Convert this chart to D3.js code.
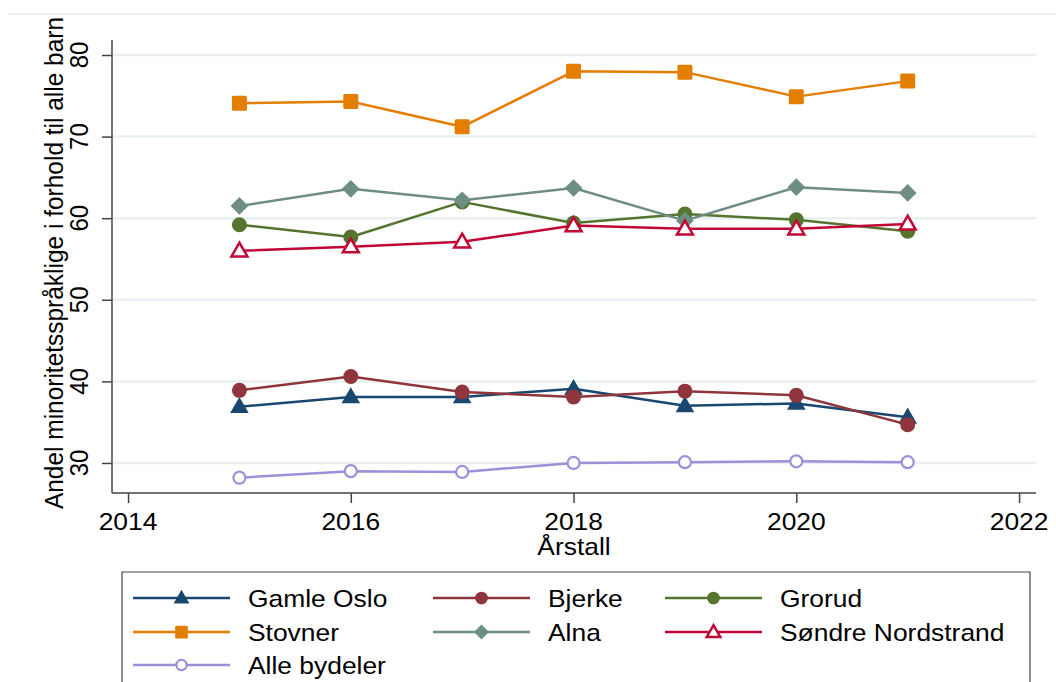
<!DOCTYPE html>
<html><head><meta charset="utf-8">
<script src="https://cdn.jsdelivr.net/npm/d3@7"></script>
<style>html,body{margin:0;padding:0;background:#fff;}svg{display:block;}</style>
</head><body>
<svg id="c" width="1056" height="682"></svg>
<script>
const years = [2015, 2016, 2017, 2018, 2019, 2020, 2021];
const seriesNames = ["Gamle Oslo", "Bjerke", "Grorud", "Stovner", "Alna", "Søndre Nordstrand", "Alle bydeler"];
const gamleOslo = [36.9, 38.1, 38.1, 39.1, 37.0, 37.3, 35.6];
const bjerke = [38.9, 40.6, 38.7, 38.1, 38.8, 38.3, 34.7];
const grorud = [59.2, 57.7, 62.0, 59.4, 60.5, 59.8, 58.4];
const stovner = [74.1, 74.3, 71.2, 78.0, 77.9, 74.9, 76.8];
const alna = [61.5, 63.6, 62.2, 63.7, 59.7, 63.8, 63.1];
const sondreNordstrand = [56.0, 56.5, 57.1, 59.1, 58.7, 58.7, 59.3];
const alleBydeler = [28.2, 29.0, 28.9, 30.0, 30.1, 30.2, 30.1];
const xTicks = [2014, 2016, 2018, 2020, 2022];
const yTicks = [30, 40, 50, 60, 70, 80];
const yTitle = "Andel minoritetsspråklige i forhold til alle barn";
const xTitle = "Årstall";

const seriesValues = [gamleOslo, bjerke, grorud, stovner, alna, sondreNordstrand, alleBydeler];
const colors = ["#1a476f", "#90353b", "#55752f", "#e37e00", "#6e8e84", "#c10534", "#9a91d9"];
const symbols = ["triangle", "circle", "circle", "square", "diamond", "triangleHollow", "circleHollow"];

const svg = d3.select("#c");
const FS = 24, SX = 1.1;
const font = "'Liberation Sans', Arial, sans-serif";

const x = d3.scaleLinear().domain([2013.856, 2022.152]).range([112, 1036]);
const y = d3.scaleLinear().domain([26.32, 81.84]).range([493, 40]);

// top faint line
svg.append("line").attr("x1", 8).attr("x2", 1056).attr("y1", 14).attr("y2", 14)
  .attr("stroke", "#e9eef0").attr("stroke-width", 1.5);

// grid
svg.append("g").selectAll("line").data(yTicks).join("line")
  .attr("x1", 113).attr("x2", 1036)
  .attr("y1", d => y(d)).attr("y2", d => y(d))
  .attr("stroke", "#e8f0f1").attr("stroke-width", 2.5);

// axes
const yAxis = d3.axisLeft(y).tickValues(yTicks).tickSize(10).tickFormat("");
const gy = svg.append("g").attr("transform", "translate(112,0)").call(yAxis);
gy.select(".domain").attr("d", "M0,40V493").attr("stroke", "#444").attr("stroke-width", 1.5);
gy.selectAll(".tick line").attr("stroke", "#444").attr("stroke-width", 1.5);

const xAxis = d3.axisBottom(x).tickValues(xTicks).tickSize(10).tickFormat("");
const gx = svg.append("g").attr("transform", "translate(0,493)").call(xAxis);
gx.select(".domain").attr("d", "M112,0H1036").attr("stroke", "#444").attr("stroke-width", 1.5);
gx.selectAll(".tick line").attr("stroke", "#444").attr("stroke-width", 1.5);

function htext(tx, ty, s, anchor) {
  svg.append("text").attr("transform", `translate(${tx},${ty}) scale(${SX},1)`)
    .attr("text-anchor", anchor || "start").attr("font-family", font).attr("font-size", FS)
    .attr("fill", "#000").text(s);
}
function vtext(tx, ty, s, sy) {
  svg.append("text").attr("transform", `translate(${tx},${ty}) scale(${SX},${sy || 1}) rotate(-90)`)
    .attr("text-anchor", "middle").attr("font-family", font).attr("font-size", FS)
    .attr("fill", "#000").text(s);
}
xTicks.forEach(t => htext(x(t), 530, String(t), "middle"));
yTicks.forEach(t => vtext(88, y(t), String(t)));
htext(574, 555, xTitle, "middle");
vtext(63, 263, yTitle, 1.02);

function drawMarker(g, sym, color, cx, cy, k) {
  k = k || 1;
  if (sym === "triangle") {
    g.append("path").attr("d", d3.symbol(d3.symbolTriangle, 150 * k * k)())
      .attr("transform", `translate(${cx},${cy + 1})`).attr("fill", color);
  } else if (sym === "triangleHollow") {
    g.append("path").attr("d", d3.symbol(d3.symbolTriangle, 110 * k * k)())
      .attr("transform", `translate(${cx},${cy + 1})`).attr("fill", "#fff")
      .attr("stroke", color).attr("stroke-width", 2.5);
  } else if (sym === "circle") {
    g.append("circle").attr("cx", cx).attr("cy", cy).attr("r", 7.5 * k).attr("fill", color);
  } else if (sym === "circleHollow") {
    g.append("circle").attr("cx", cx).attr("cy", cy).attr("r", 6 * k).attr("fill", "#fff")
      .attr("stroke", color).attr("stroke-width", 2.2);
  } else if (sym === "square") {
    const s = 15 * k;
    g.append("rect").attr("x", cx - s / 2).attr("y", cy - s / 2).attr("width", s).attr("height", s)
      .attr("rx", 1.5).attr("fill", color);
  } else if (sym === "diamond") {
    g.append("path").attr("d", d3.symbol(d3.symbolDiamond2, 200 * k * k)())
      .attr("transform", `translate(${cx},${cy})`).attr("fill", color);
  }
}

const line = d3.line().x((d, i) => x(years[i])).y(d => y(d));
seriesValues.forEach((vals, si) => {
  const g = svg.append("g");
  g.append("path").attr("d", line(vals)).attr("fill", "none")
    .attr("stroke", colors[si]).attr("stroke-width", 2.5).attr("stroke-linejoin", "round");
  vals.forEach((v, i) => drawMarker(g, symbols[si], colors[si], x(years[i]), y(v)));
});

// legend
const lg = svg.append("g");
lg.append("path").attr("d", "M122,690V572H1030V690").attr("fill", "none")
  .attr("stroke", "#444").attr("stroke-width", 1.2);
const colX = [133, 433, 665];
const rowY = [598, 632, 665];
seriesNames.forEach((name, i) => {
  const cx = colX[i % 3], cy = rowY[Math.floor(i / 3)];
  lg.append("line").attr("x1", cx).attr("x2", cx + 97).attr("y1", cy).attr("y2", cy)
    .attr("stroke", colors[i]).attr("stroke-width", 2.5);
  drawMarker(lg, symbols[i], colors[i], cx + 48.5, cy, 0.85);
  htext(cx + 115, cy + 8.5, name, "start");
});
</script>
</body></html>
